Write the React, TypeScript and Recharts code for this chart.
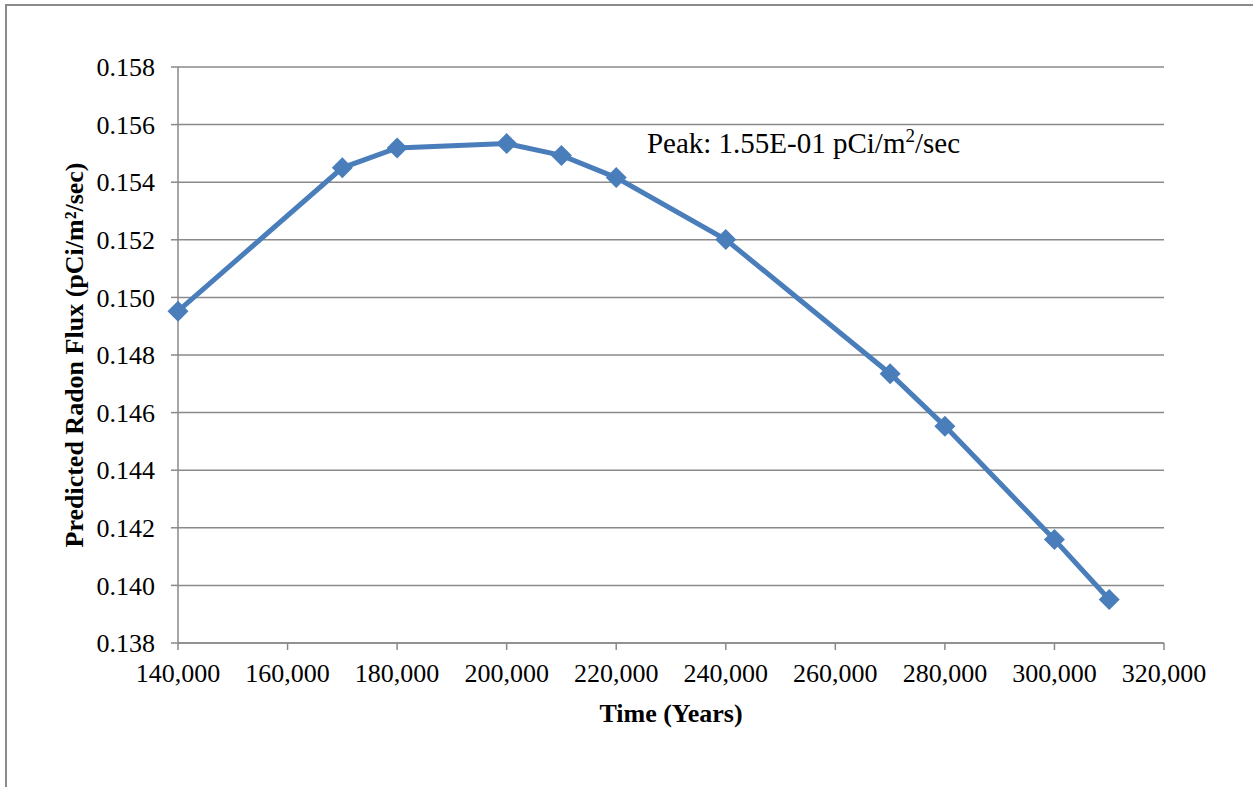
import { LineChart, Line, XAxis, YAxis, CartesianGrid, ReferenceDot } from "recharts";

// time after closure (years) and predicted flux (pCi/m²/sec)
const years = [140000, 170000, 180000, 200000, 210000, 220000, 240000, 270000, 280000, 300000, 310000];
const flux = [0.14952, 0.1545, 0.15519, 0.15534, 0.15493, 0.15416, 0.15201, 0.14735, 0.14553, 0.14159, 0.13951];

const xTicks = [140000, 160000, 180000, 200000, 220000, 240000, 260000, 280000, 300000, 320000];
const yTicks = [0.138, 0.14, 0.142, 0.144, 0.146, 0.148, 0.15, 0.152, 0.154, 0.156, 0.158];

// where the "Peak" text box sits, in data units
const peakNoteX = 225600;
const peakNoteY = 0.155;

const data = years.map((t, i) => ({ t, flux: flux[i] }));

const FONT = "'Liberation Serif', 'Times New Roman', serif";
const GRID = "#8a8a8a";
const BLUE = "#4a7ebb";

function Diamond(props: any) {
  const { cx, cy } = props;
  if (cx == null || cy == null) return null;
  const r = 10.5;
  return <path d={`M${cx} ${cy - r}L${cx + r} ${cy}L${cx} ${cy + r}L${cx - r} ${cy}Z`} fill={BLUE} />;
}

function YTitle(props: any) {
  const { viewBox } = props;
  const x = viewBox.x + 83;
  const y = viewBox.y + viewBox.height / 2;
  return (
    <text x={x} y={y} transform={`rotate(-90 ${x} ${y})`} textAnchor="middle"
      fontFamily={FONT} fontSize={26} fontWeight="bold" fill="#000">
      Predicted Radon Flux (pCi/m²/sec)
    </text>
  );
}

function XTitle(props: any) {
  const { viewBox } = props;
  return (
    <text x={viewBox.x + viewBox.width / 2} y={viewBox.y + 79} textAnchor="middle"
      fontFamily={FONT} fontSize={26} fontWeight="bold" fill="#000">
      Time (Years)
    </text>
  );
}

function PeakNote(props: any) {
  const { viewBox } = props;
  return (
    <text x={viewBox.x} y={viewBox.y} textAnchor="start" fontFamily={FONT} fontSize={29} fill="#000">
      <tspan>Peak: 1.55E-01 pCi/m</tspan>
      <tspan dy={-11} fontSize={19}>2</tspan>
      <tspan dy={11}>/sec</tspan>
    </text>
  );
}

export default function App() {
  return (
    <div style={{ position: "absolute", left: 0, top: 0, width: 1253, height: 787, background: "#fff", overflow: "hidden" }}>
      <div style={{ position: "absolute", left: 5, top: 4, width: 1400, height: 900, borderLeft: `2px solid ${GRID}`, borderTop: `2px solid ${GRID}` }} />
      <div style={{ position: "absolute", left: 0, top: 0 }}>
        <LineChart width={1253} height={787} data={data} margin={{ top: 67, right: 89, left: 0, bottom: 0 }}>
          <CartesianGrid vertical={false} stroke={GRID} strokeWidth={1.5} />
          <XAxis
            dataKey="t"
            type="number"
            domain={[140000, 320000]}
            ticks={xTicks}
            interval={0}
            height={144}
            tickSize={7}
            tickMargin={14}
            tickFormatter={(v) => Number(v).toLocaleString("en-US")}
            tick={{ fontSize: 26, fontFamily: FONT, fill: "#000" }}
            axisLine={{ stroke: GRID, strokeWidth: 1.5 }}
            tickLine={{ stroke: GRID, strokeWidth: 1.5 }}
            label={XTitle}
          />
          <YAxis
            type="number"
            domain={[0.138, 0.158]}
            ticks={yTicks}
            interval={0}
            width={178}
            tickSize={7}
            tickMargin={16}
            tickFormatter={(v) => Number(v).toFixed(3)}
            tick={{ fontSize: 26, fontFamily: FONT, fill: "#000" }}
            axisLine={{ stroke: GRID, strokeWidth: 1.5 }}
            tickLine={{ stroke: GRID, strokeWidth: 1.5 }}
            label={YTitle}
          />
          <Line
            type="linear"
            dataKey="flux"
            stroke={BLUE}
            strokeWidth={5}
            dot={<Diamond />}
            activeDot={false}
            isAnimationActive={false}
          />
          <ReferenceDot x={peakNoteX} y={peakNoteY} r={0} fill="none" stroke="none" label={PeakNote} />
        </LineChart>
      </div>
    </div>
  );
}
